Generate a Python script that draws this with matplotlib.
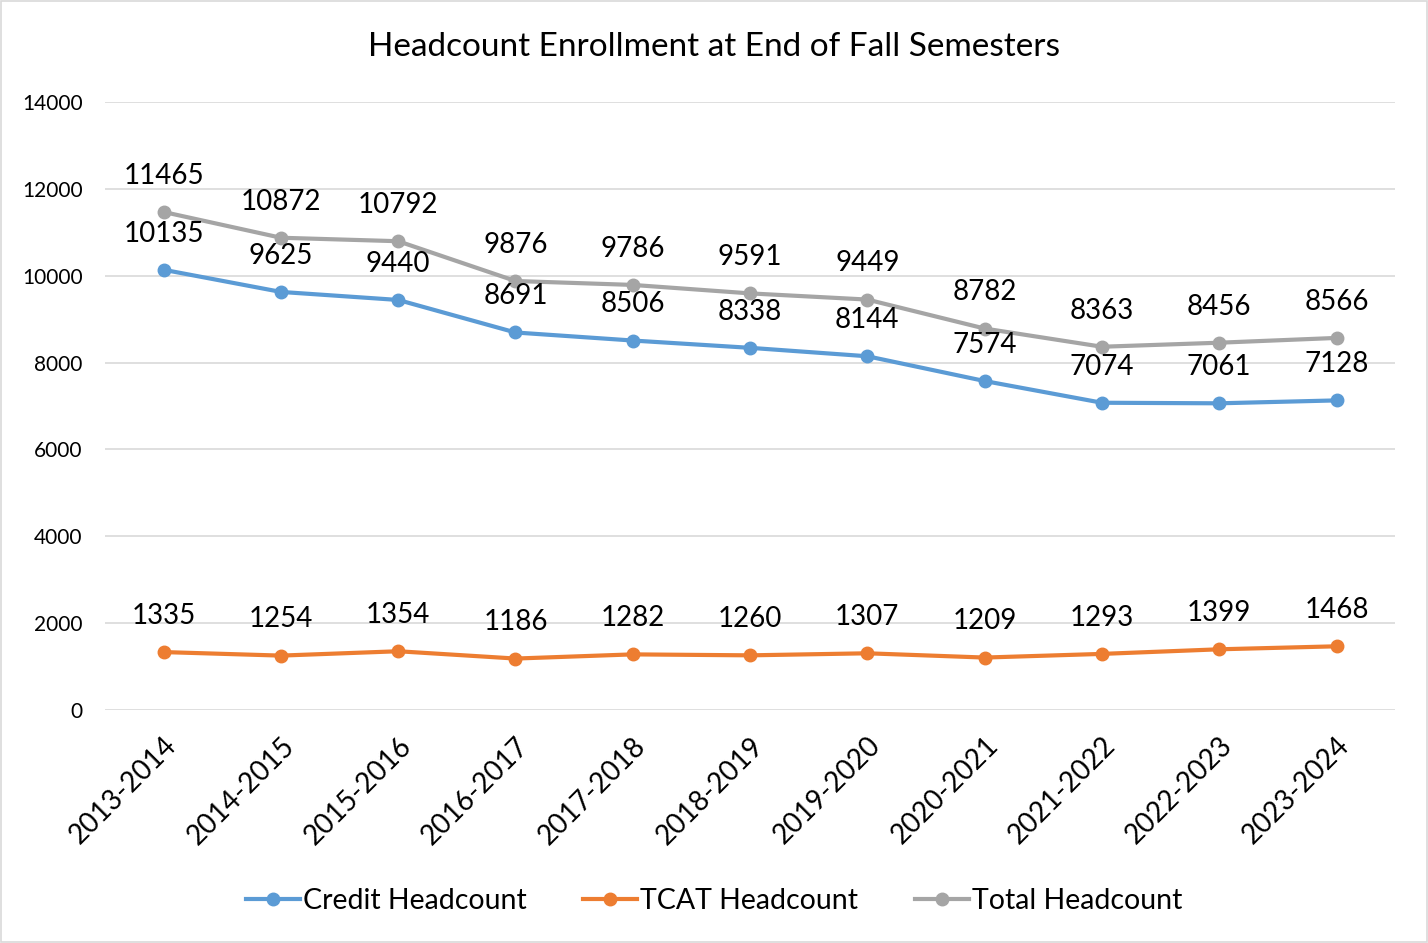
import matplotlib.pyplot as plt

plt.rcParams['font.family'] = ['Lato', 'DejaVu Sans']

years = ["2013-2014", "2014-2015", "2015-2016", "2016-2017", "2017-2018", "2018-2019",
         "2019-2020", "2020-2021", "2021-2022", "2022-2023", "2023-2024"]
credit = [10135, 9625, 9440, 8691, 8506, 8338, 8144, 7574, 7074, 7061, 7128]
tcat = [1335, 1254, 1354, 1186, 1282, 1260, 1307, 1209, 1293, 1399, 1468]
total = [11465, 10872, 10792, 9876, 9786, 9591, 9449, 8782, 8363, 8456, 8566]

fig = plt.figure(figsize=(14.28, 9.43), dpi=100)
ax = fig.add_axes([0.0735, 0.247, 0.9035, 0.645])

series = [(credit, "Credit Headcount", "#5B9BD5"),
          (tcat, "TCAT Headcount", "#ED7D31"),
          (total, "Total Headcount", "#A5A5A5")]

x = list(range(len(years)))
for vals, name, col in series:
    ax.plot(x, vals, color=col, lw=3, marker='o', ms=9, label=name)
    for xi, v in zip(x, vals):
        ax.annotate(str(v), (xi, v), xytext=(0, 26), textcoords='offset points',
                    ha='center', va='center', fontsize=20)

ax.set_xlim(-0.5, 10.5)
ax.set_ylim(0, 14000)
ax.set_yticks(range(0, 14001, 2000))
ax.set_xticks(x)
ax.set_xticklabels(years, rotation=45, ha='right', rotation_mode='anchor', fontsize=20)
ax.tick_params(axis='y', labelsize=15, length=0, pad=16)
ax.tick_params(axis='x', length=0, pad=16)
ax.grid(axis='y', color='#D9D9D9', lw=1.2)
ax.set_axisbelow(True)
for s in ax.spines.values():
    s.set_visible(False)

fig.text(0.5, 0.95, "Headcount Enrollment at End of Fall Semesters", ha='center', va='center',
         fontsize=24)
fig.legend(loc='center', bbox_to_anchor=(0.5, 0.045), ncol=3, frameon=False, fontsize=20.5,
           handlelength=1.9, columnspacing=2.0, handletextpad=0.1)

fig.patches.append(plt.Rectangle((0.001, 0.001), 0.998, 0.998, transform=fig.transFigure,
                                 fill=False, edgecolor='#D9D9D9', lw=1.2))
fig.savefig("out.png", dpi=100)
